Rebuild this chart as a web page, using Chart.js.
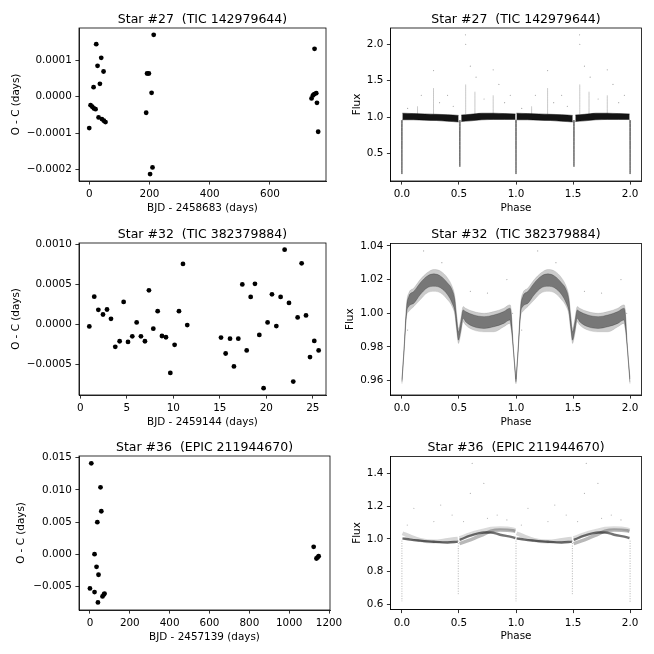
<!DOCTYPE html>
<html>
<head>
<meta charset="utf-8">
<script src="https://cdn.jsdelivr.net/npm/chart.js@4.4.1/dist/chart.umd.min.js"></script>
<style>
html, body { margin: 0; padding: 0; background: #fff; }
#wrap { position: relative; width: 654px; height: 654px; overflow: hidden; }
#wrap canvas { position: absolute; }
</style>
</head>
<body>
<div id="wrap">
	<canvas id="oc27"></canvas>
	<canvas id="lc27"></canvas>
	<canvas id="oc32"></canvas>
	<canvas id="lc32"></canvas>
	<canvas id="oc36"></canvas>
	<canvas id="lc36"></canvas>
</div>

<script>
// ---------- Star #27 (TIC 142979644) ----------
var s27Bjd = [0, 4.4, 10, 14.4, 15.5, 21, 23.2, 27.6, 31, 35.4, 39.8, 42, 47.5, 48.6, 54,
	189, 192, 198, 202, 207, 210, 214,
	738, 742.5, 747, 748, 753.6, 756, 760];
var s27Oc = [-0.0000862, -0.0000230, -0.0000275, 0.0000266, -0.0000320, -0.0000340, 0.0001450, 0.0000853, -0.0000569, 0.0000358, 0.0001073, -0.0000615, 0.0000697, -0.0000660, -0.0000697,
	-0.0000440, 0.0000642, 0.0000642, -0.0002128, 0.0000110, -0.0001945, 0.0001706,
	-0.0000046, 0.0000037, 0.0000073, 0.0001320, 0.0000100, -0.0000165, -0.0000963];
var s27XTicks = [0, 200, 400, 600];
var s27XLabels = ["0", "200", "400", "600"];
var s27YTicks = [0.0001, 0, -0.0001, -0.0002];
var s27YLabels = ["0.0001", "0.0000", "\u22120.0001", "\u22120.0002"];

// light curve, one cycle (the plot shows phase 0-2, i.e. the cycle twice)
var lc27PhA = [0.004, 0.1, 0.2, 0.3, 0.4, 0.497];
var lc27HiA = [1.055, 1.050, 1.045, 1.040, 1.035, 1.025];
var lc27LoA = [0.965, 0.965, 0.960, 0.955, 0.945, 0.935];
var lc27PhB = [0.52, 0.6, 0.7, 0.8, 0.9, 0.996];
var lc27HiB = [1.030, 1.040, 1.055, 1.055, 1.050, 1.045];
var lc27LoB = [0.940, 0.950, 0.965, 0.970, 0.970, 0.970];
var lc27DipPh = [0, 0.508, 1, 1.508, 2];
var lc27DipMin = [0.22, 0.32, 0.22, 0.32, 0.22];
var lc27FlarePh = [0.137, 0.277, 0.559, 0.64, 0.80];
var lc27FlarePeak = [1.15, 1.40, 1.45, 1.35, 1.30];
var lc27DotPh = [0.05, 0.17, 0.277, 0.33, 0.40, 0.45, 0.557, 0.559, 0.60, 0.65, 0.72, 0.80, 0.85, 0.90, 0.95];
var lc27DotFx = [1.12, 1.30, 1.64, 1.20, 1.30, 1.15, 2.13, 2.00, 1.70, 1.55, 1.25, 1.65, 1.45, 1.20, 1.30];
var lcXTicks = [0, 0.5, 1, 1.5, 2];
var lcXLabels = ["0.0", "0.5", "1.0", "1.5", "2.0"];
var lc27YTicks = [0.5, 1.0, 1.5, 2.0];
var lc27YLabels = ["0.5", "1.0", "1.5", "2.0"];

// ---------- Star #32 (TIC 382379884) ----------
var s32Bjd = [0.97, 1.5, 1.94, 2.44, 2.87, 3.3, 3.76, 4.23, 4.66, 5.13, 5.59, 6.06, 6.52, 6.95, 7.38, 7.85, 8.32, 8.78, 9.21, 9.68, 10.14, 10.61, 11.04, 11.5,
	15.13, 15.63, 16.1, 16.52, 16.99, 17.42, 17.89, 18.32, 18.78, 19.25, 19.71, 20.14, 20.61, 21.08, 21.54, 21.97, 22.44, 22.9, 23.37, 23.8, 24.27, 24.7, 25.16, 25.63];
var s32Oc = [-0.000025, 0.000347, 0.000182, 0.000124, 0.000186, 0.000070, -0.000281, -0.000211, 0.000281, -0.000219, -0.000149, 0.000025, -0.000149, -0.000211, 0.000426, -0.000054, 0.000165, -0.000145, -0.000161, -0.000607, -0.000256, 0.000165, 0.000756, -0.000008,
	-0.000165, -0.000364, -0.000178, -0.000525, -0.000178, 0.000500, -0.000326, 0.000343, 0.000508, -0.000132, -0.000798, 0.000025, 0.000376, -0.000021, 0.000343, 0.000934, 0.000269, -0.000715, 0.000087, 0.000764, 0.000112, -0.000409, -0.000207, -0.000326];
var s32XTicks = [0, 5, 10, 15, 20, 25];
var s32XLabels = ["0", "5", "10", "15", "20", "25"];
var s32YTicks = [0.0010, 0.0005, 0, -0.0005];
var s32YLabels = ["0.0010", "0.0005", "0.0000", "\u22120.0005"];

var lc32Ph = [0.0, 0.018, 0.041, 0.06, 0.105, 0.16, 0.22, 0.28, 0.34, 0.40, 0.44, 0.464, 0.479, 0.496, 0.514, 0.537, 0.558, 0.63, 0.72, 0.806, 0.893, 0.946, 0.958, 0.975, 0.999];
var lc32OutHi = [0.961, 0.979, 1.006, 1.012, 1.015, 1.020, 1.024, 1.026, 1.025, 1.021, 1.016, 1.010, 1.000, 0.991, 0.996, 1.004, 1.003, 1.001, 1.000, 1.001, 1.003, 1.005, 1.002, 0.982, 0.962];
var lc32OutLo = [0.958, 0.976, 0.998, 1.001, 1.004, 1.008, 1.012, 1.013, 1.012, 1.008, 1.004, 0.999, 0.990, 0.982, 0.987, 0.995, 0.993, 0.990, 0.989, 0.989, 0.992, 0.994, 0.990, 0.979, 0.958];
var lc32CoreHi = [0.960, 0.978, 1.004, 1.010, 1.013, 1.018, 1.022, 1.0234, 1.022, 1.018, 1.014, 1.008, 0.998, 0.989, 0.994, 1.002, 1.001, 0.999, 0.998, 0.999, 1.001, 1.003, 1.000, 0.981, 0.961];
var lc32CoreLo = [0.959, 0.977, 1.000, 1.004, 1.006, 1.011, 1.015, 1.016, 1.015, 1.011, 1.006, 1.001, 0.992, 0.984, 0.989, 0.997, 0.995, 0.992, 0.991, 0.992, 0.994, 0.996, 0.992, 0.980, 0.959];
var lc32DotPh = [0.05, 0.19, 0.35, 0.60, 0.75, 0.92, 0.97];
var lc32DotFx = [0.990, 1.037, 1.030, 1.013, 1.012, 1.020, 1.000];
var lc32YTicks = [0.96, 0.98, 1.00, 1.02, 1.04];
var lc32YLabels = ["0.96", "0.98", "1.00", "1.02", "1.04"];

// ---------- Star #36 (EPIC 211944670) ----------
var s36Bjd = [0, 6.7, 23, 23, 33, 37, 40, 43, 53, 57, 63, 70, 73, 1123, 1137, 1143, 1148];
var s36Oc = [-0.00526, 0.01412, 0.00005, -0.00582, -0.00191, 0.00500, -0.00742, -0.00314, 0.01041, 0.00670, -0.00650, -0.00620, -0.00605, 0.00119, -0.00062, -0.00046, -0.00026];
var s36XTicks = [0, 200, 400, 600, 800, 1000, 1200];
var s36XLabels = ["0", "200", "400", "600", "800", "1000", "1200"];
var s36YTicks = [0.015, 0.010, 0.005, 0, -0.005];
var s36YLabels = ["0.015", "0.010", "0.005", "0.000", "\u22120.005"];

var lc36PhA = [0.005, 0.076, 0.16, 0.28, 0.40, 0.49];
var lc36DarkA = [1.004, 0.996, 0.990, 0.983, 0.979, 0.984];
var lc36LightA = [1.035, 1.014, 0.994, 0.984, 0.994, 1.002];
var lc36PhB = [0.505, 0.60, 0.72, 0.78, 0.86, 0.975, 0.995];
var lc36DarkB = [0.994, 1.020, 1.040, 1.040, 1.026, 1.010, 1.006];
var lc36LightB = [0.972, 0.995, 1.030, 1.048, 1.055, 1.050, 1.046];
var lc36UpperB = [1.005, 1.030, 1.052, 1.062, 1.066, 1.058, 1.052];
var lc36DipPh = [0, 0.494, 1, 1.494, 2];
var lc36DipMin = [0.62, 0.66, 0.62, 0.66, 0.61];
var lc36DotPh = [0.047, 0.105, 0.28, 0.34, 0.44, 0.54, 0.60, 0.616, 0.718, 0.75, 0.835, 0.92];
var lc36DotFx = [1.085, 1.187, 1.106, 1.207, 1.146, 1.106, 1.278, 1.461, 1.339, 1.126, 1.146, 1.116];
var lc36YTicks = [0.6, 0.8, 1.0, 1.2, 1.4];
var lc36YLabels = ["0.6", "0.8", "1.0", "1.2", "1.4"];
</script>

<script>
var FONT = '"DejaVu Sans", sans-serif';

// frame on all four sides + title above the axes
var framePlugin = {
	id: 'frame',
	afterDraw: function(chart, args, opts) {
		var a = chart.chartArea, ctx = chart.ctx;
		ctx.save();
		ctx.strokeStyle = '#000';
		ctx.lineWidth = 0.8;
		ctx.strokeRect(a.left, a.top, a.right - a.left, a.bottom - a.top);
		ctx.fillStyle = '#000';
		ctx.font = '12.5px ' + FONT;
		ctx.textAlign = 'center';
		ctx.textBaseline = 'alphabetic';
		ctx.fillText(opts.title, (a.left + a.right) / 2, a.top - 5.5);
		ctx.restore();
	}
};

function pts(xs, ys, shift) {
	var out = [];
	for (var i = 0; i < xs.length; i++) out.push({x: xs[i] + (shift || 0), y: ys[i]});
	return out;
}

function axis(min, max, vals, labels, title, size, titlePad, horizontal) {
	return {
		type: 'linear', min: min, max: max,
		afterBuildTicks: function(s) { s.ticks = vals.map(function(v) { return {value: v}; }); },
		afterFit: function(s) {
			if (horizontal) { s.height = size; s.paddingLeft = 0; s.paddingRight = 0; }
			else { s.width = size; s.paddingTop = 0; s.paddingBottom = 0; }
		},
		ticks: {
			callback: function(v, i) { return labels[i]; },
			color: '#000', font: {family: FONT, size: 10.4}, padding: 3.6,
			maxRotation: 0, minRotation: 0, autoSkip: false
		},
		grid: {display: true, drawOnChartArea: false, drawTicks: true, tickLength: 3.6,
			tickWidth: 0.8, tickColor: '#000', color: '#000'},
		border: {display: true, color: '#000', width: 0.8},
		title: {display: true, text: title, color: '#000', font: {family: FONT, size: 10.4},
			padding: horizontal ? {top: 0, bottom: titlePad} : {top: titlePad, bottom: 0}}
	};
}

// g: canvas box (x,y,w,h), axes box (l,r,t,b), y-label centre (yl)
function panel(id, g, xr, yr, xTitle, yTitle, datasets, title) {
	var cv = document.getElementById(id);
	cv.width = g.w; cv.height = g.h;
	cv.style.left = g.x + 'px'; cv.style.top = g.y + 'px';
	var lh = 10.4 * 1.2 / 2;
	var xSize = g.y + g.h - g.b;
	var xPad = (g.y + g.h) - (g.b + 27) - lh;
	var yPad = (g.yl - g.x) - lh;
	return new Chart(cv, {
		type: 'line',
		data: {datasets: datasets},
		options: {
			responsive: false, animation: false, events: [],
			layout: {padding: {left: 0, top: g.t - g.y, right: g.x + g.w - g.r, bottom: 0}},
			plugins: {legend: {display: false}, tooltip: {enabled: false}, frame: {title: title}},
			scales: {
				x: axis(xr[0], xr[1], xr[2], xr[3], xTitle, xSize, xPad, true),
				y: axis(yr[0], yr[1], yr[2], yr[3], yTitle, g.l - g.x, yPad, false)
			}
		},
		plugins: [framePlugin]
	});
}

function dots(data, r, col) {
	return {data: data, showLine: false, pointRadius: r, pointBackgroundColor: col,
		pointBorderWidth: 0, borderColor: col, backgroundColor: col};
}
function line(data, w, col, dash) {
	return {data: data, showLine: true, pointRadius: 0, borderWidth: w, borderColor: col,
		borderDash: dash || [], fill: false, cubicInterpolationMode: 'monotone'};
}
function band(hi, lo, col) {
	return [
		{data: hi, pointRadius: 0, borderWidth: 0.5, borderColor: col, backgroundColor: col, fill: '+1', cubicInterpolationMode: 'monotone'},
		{data: lo, pointRadius: 0, borderWidth: 0.5, borderColor: col, fill: false, cubicInterpolationMode: 'monotone'}
	];
}

// ---- O-C panels ----
panel('oc27', {x: 0, y: 0, w: 345, h: 215, l: 79, r: 326, t: 28, b: 181, yl: 16.7},
	[-34, 786, s27XTicks, s27XLabels], [-0.000232, 0.0001895, s27YTicks, s27YLabels],
	'BJD - 2458683 (days)', 'O - C (days)',
	[dots(pts(s27Bjd, s27Oc), 2.4, '#000')], 'Star #27  (TIC 142979644)');

panel('oc32', {x: 0, y: 215, w: 345, h: 215, l: 79, r: 326, t: 243, b: 395, yl: 16.7},
	[-0.14, 26.42, s32XTicks, s32XLabels], [-0.000883, 0.001018, s32YTicks, s32YLabels],
	'BJD - 2459144 (days)', 'O - C (days)',
	[dots(pts(s32Bjd, s32Oc), 2.4, '#000')], 'Star #32  (TIC 382379884)');

panel('oc36', {x: 0, y: 430, w: 345, h: 224, l: 79, r: 330, t: 456, b: 610, yl: 21},
	[-55, 1205, s36XTicks, s36XLabels], [-0.0086, 0.01526, s36YTicks, s36YLabels],
	'BJD - 2457139 (days)', 'O - C (days)',
	[dots(pts(s36Bjd, s36Oc), 2.4, '#000')], 'Star #36  (EPIC 211944670)');

// ---- light curves ----
var ds27 = [];
[0, 1].forEach(function(k) {
	ds27 = ds27.concat(band(pts(lc27PhA, lc27HiA, k), pts(lc27PhA, lc27LoA, k), 'rgba(0,0,0,0.92)'));
	ds27 = ds27.concat(band(pts(lc27PhB, lc27HiB, k), pts(lc27PhB, lc27LoB, k), 'rgba(0,0,0,0.92)'));
	lc27FlarePh.forEach(function(p, i) {
		ds27.push(line([{x: p + k, y: 1.04}, {x: p + k, y: lc27FlarePeak[i]}], 1, 'rgba(0,0,0,0.22)'));
	});
	ds27.push(dots(pts(lc27DotPh, lc27DotFx, k), 0.6, 'rgba(0,0,0,0.35)'));
});
lc27DipPh.forEach(function(p, i) {
	ds27.push(line([{x: p - 0.004, y: 0.96}, {x: p, y: lc27DipMin[i]}, {x: p + 0.004, y: 0.96}], 1, 'rgba(0,0,0,0.5)'));
});
panel('lc27', {x: 327, y: 0, w: 327, h: 215, l: 390.5, r: 641.5, t: 28, b: 181, yl: 357},
	[-0.1, 2.1, lcXTicks, lcXLabels], [0.125, 2.224, lc27YTicks, lc27YLabels],
	'Phase', 'Flux', ds27, 'Star #27  (TIC 142979644)');

var ds32 = [];
[0, 1].forEach(function(k) {
	ds32 = ds32.concat(band(pts(lc32Ph, lc32OutHi, k), pts(lc32Ph, lc32OutLo, k), 'rgba(0,0,0,0.2)'));
	ds32 = ds32.concat(band(pts(lc32Ph, lc32CoreHi, k), pts(lc32Ph, lc32CoreLo, k), 'rgba(0,0,0,0.42)'));
	ds32.push(dots(pts(lc32DotPh, lc32DotFx, k), 0.6, 'rgba(0,0,0,0.35)'));
});
panel('lc32', {x: 327, y: 215, w: 327, h: 215, l: 390.5, r: 641.5, t: 243.5, b: 395, yl: 350},
	[-0.1, 2.1, lcXTicks, lcXLabels], [0.9515, 1.0414, lc32YTicks, lc32YLabels],
	'Phase', 'Flux', ds32, 'Star #32  (TIC 382379884)');

var ds36 = [];
[0, 1].forEach(function(k) {
	ds36.push(line(pts(lc36PhA, lc36LightA, k), 4, 'rgba(0,0,0,0.16)'));
	ds36.push(line(pts(lc36PhB, lc36UpperB, k), 4, 'rgba(0,0,0,0.14)'));
	ds36.push(line(pts(lc36PhB, lc36LightB, k), 3.5, 'rgba(0,0,0,0.28)'));
	ds36.push(line(pts(lc36PhA, lc36DarkA, k), 2.4, 'rgba(0,0,0,0.6)'));
	ds36.push(line(pts(lc36PhB, lc36DarkB, k), 2.4, 'rgba(0,0,0,0.55)'));
	ds36.push(dots(pts(lc36DotPh, lc36DotFx, k), 0.6, 'rgba(0,0,0,0.3)'));
});
lc36DipPh.forEach(function(p, i) {
	ds36.push(line([{x: p, y: 0.99}, {x: p, y: lc36DipMin[i]}], 1, 'rgba(0,0,0,0.3)', [1, 1.5]));
});
panel('lc36', {x: 327, y: 430, w: 327, h: 224, l: 390.5, r: 641.5, t: 456.5, b: 609.5, yl: 357},
	[-0.1, 2.1, lcXTicks, lcXLabels], [0.57, 1.503, lc36YTicks, lc36YLabels],
	'Phase', 'Flux', ds36, 'Star #36  (EPIC 211944670)');
</script>
</body>
</html>
